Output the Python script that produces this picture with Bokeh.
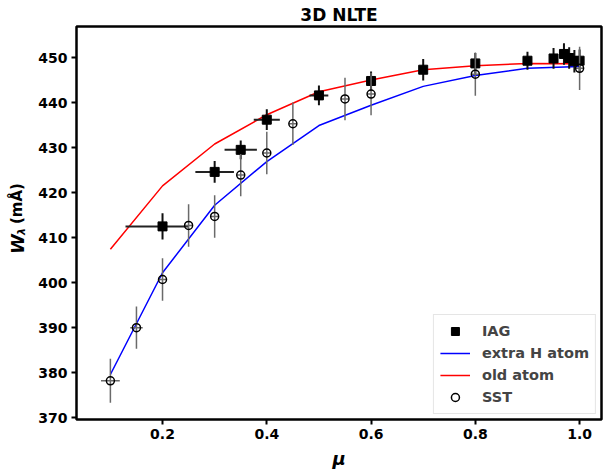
from bokeh.plotting import figure
from bokeh.layouts import row
from bokeh.models import ColumnDataSource, Legend, LegendItem, Label, FixedTicker, PrintfTickFormatter, Range1d
from bokeh.embed import file_html
from bokeh.resources import INLINE
import numpy as np

# ---- data ----
mu_model = [0.1, 0.2, 0.3, 0.4, 0.5, 0.6, 0.7, 0.8, 0.9, 1.0]
w_extra_h = [379.6, 402.2, 417.2, 426.9, 434.9, 439.4, 443.6, 446.0, 447.6, 448.0]
w_old_atom = [407.4, 421.5, 430.8, 437.3, 442.4, 445.0, 447.3, 448.2, 448.7, 448.6]

mu_iag = [0.2, 0.3, 0.35, 0.4, 0.5, 0.6, 0.7, 0.8, 0.9, 0.95, 0.97, 0.98, 0.99, 1.0]
w_iag = [412.5, 424.6, 429.5, 436.2, 441.6, 444.8, 447.3, 448.7, 449.3, 449.8, 450.8, 449.9, 449.2, 449.3]
w_iag_err = [2.9, 2.4, 2.1, 2.3, 2.2, 2.1, 2.4, 2.3, 2.0, 2.3, 2.4, 2.4, 2.5, 2.5]
mu_iag_err_lo = [0.071, 0.037, 0.031, 0.025, 0.018, 0.008, 0.006, 0.005, 0.004, 0.004, 0.004, 0.004, 0.004, 0.004]
mu_iag_err_hi = [0.05, 0.037, 0.031, 0.025, 0.018, 0.008, 0.006, 0.005, 0.004, 0.004, 0.004, 0.004, 0.004, 0.004]

mu_sst = [0.1, 0.15, 0.2, 0.25, 0.3, 0.35, 0.4, 0.45, 0.55, 0.6, 0.8, 1.0]
w_sst = [378.2, 390.0, 400.7, 412.7, 414.7, 423.9, 428.8, 435.3, 440.8, 441.9, 446.3, 447.6]
w_sst_err = [4.9, 4.7, 4.7, 4.7, 4.7, 4.7, 4.7, 4.7, 4.7, 4.7, 4.8, 4.8]
mu_sst_err = [0.018, 0.012, 0.007, 0.007, 0.007, 0.007, 0.007, 0.007, 0.007, 0.007, 0.007, 0.007]

x_ticks = [0.2, 0.4, 0.6, 0.8, 1.0]
y_ticks = [370, 380, 390, 400, 410, 420, 430, 440, 450]

FONT = "DejaVu Sans"
LAB_W = 30
H = 473
FRAME_TOP = 25
FRAME_BOTTOM = 419

p = figure(width=603 - LAB_W, height=H, x_range=(0.035, 1.042), y_range=(369.6, 456.9),
           output_backend="svg", toolbar_location=None,
           min_border_left=76 - LAB_W, min_border_right=2, min_border_top=FRAME_TOP,
           min_border_bottom=H - FRAME_BOTTOM)

p.title.text = "3D NLTE"
p.title.align = "center"
p.title.text_font = FONT
p.title.text_font_size = "17px"
p.title.text_font_style = "bold"
p.title.text_color = "black"
p.title.offset = 0
p.title.standoff = 4

p.grid.visible = False
p.outline_line_color = "black"
p.outline_line_width = 2.5
p.outline_line_alpha = 1.0

for ax in (p.xaxis, p.yaxis):
    ax.axis_line_color = None
    ax.major_tick_out = 5
    ax.major_tick_in = 0
    ax.major_tick_line_width = 2
    ax.minor_tick_line_color = None
    ax.major_label_text_font = FONT
    ax.major_label_text_font_size = "14px"
    ax.major_label_text_font_style = "bold"
    ax.major_label_text_color = "black"
    ax.major_label_standoff = 4

p.xaxis.ticker = FixedTicker(ticks=x_ticks)
p.xaxis.formatter = PrintfTickFormatter(format="%.1f")
p.yaxis.ticker = FixedTicker(ticks=y_ticks)
p.xaxis.axis_label = "μ"
p.xaxis.axis_label_text_font = FONT
p.xaxis.axis_label_text_font_size = "18px"
p.xaxis.axis_label_text_font_style = "bold italic"
p.xaxis.axis_label_text_color = "black"
p.xaxis.axis_label_standoff = 6

# model lines
l_h = p.line(mu_model, w_extra_h, line_color="blue", line_width=1.5)
l_old = p.line(mu_model, w_old_atom, line_color="red", line_width=1.5)

# IAG error bars and squares
iag = ColumnDataSource(dict(
    x=mu_iag, y=w_iag,
    ylo=np.array(w_iag) - np.array(w_iag_err), yhi=np.array(w_iag) + np.array(w_iag_err),
    xlo=np.array(mu_iag) - np.array(mu_iag_err_lo), xhi=np.array(mu_iag) + np.array(mu_iag_err_hi),
))
p.segment(x0="x", y0="ylo", x1="x", y1="yhi", source=iag, line_color="#111111", line_width=2)
p.segment(x0="xlo", y0="y", x1="xhi", y1="y", source=iag, line_color="#222222", line_width=2)
r_iag = p.scatter("x", "y", source=iag, marker="square", size=9, fill_color="black", line_color="black")

# SST error bars and circles
sst = ColumnDataSource(dict(
    x=mu_sst, y=w_sst,
    ylo=np.array(w_sst) - np.array(w_sst_err), yhi=np.array(w_sst) + np.array(w_sst_err),
    xlo=np.array(mu_sst) - np.array(mu_sst_err), xhi=np.array(mu_sst) + np.array(mu_sst_err),
))
p.segment(x0="x", y0="ylo", x1="x", y1="yhi", source=sst, line_color="#6a6a6a", line_width=1.5)
p.segment(x0="xlo", y0="y", x1="xhi", y1="y", source=sst, line_color="#6a6a6a", line_width=1.5)
r_sst = p.scatter("x", "y", source=sst, marker="circle", size=8, fill_color=None,
                  line_color="black", line_width=1.5)

legend = Legend(items=[
    LegendItem(label="IAG", renderers=[r_iag]),
    LegendItem(label="extra H atom", renderers=[l_h]),
    LegendItem(label="old atom", renderers=[l_old]),
    LegendItem(label="SST", renderers=[r_sst]),
], location="bottom_right")
legend.margin = 5
legend.padding = 6
legend.spacing = 2
legend.glyph_width = 30
legend.glyph_height = 20
legend.label_height = 20
legend.label_standoff = 12
legend.label_text_font = FONT
legend.label_text_font_size = "14.5px"
legend.label_text_font_style = "bold"
legend.border_line_color = "#cccccc"
legend.border_line_width = 1
legend.background_fill_alpha = 0.9
p.add_layout(legend)

# narrow side figure carrying the composed y-axis label: W (bold italic) + subscript λ + (mÅ)
# its frame is aligned with the main frame by the row layout, so y = H - page_y
side = figure(width=LAB_W, height=H, x_range=Range1d(0, LAB_W),
              y_range=Range1d(H - FRAME_BOTTOM, H - FRAME_TOP),
              output_backend="svg", toolbar_location=None,
              x_axis_type=None, y_axis_type=None,
              min_border_left=0, min_border_right=0, min_border_top=0, min_border_bottom=0)
side.outline_line_color = None
side.grid.visible = False
lab_w = Label(x=16.5, y=H - 253, text="W", angle=np.pi / 2,
              text_font=FONT, text_font_size="18px", text_font_style="bold italic",
              text_align="left", text_baseline="middle", text_color="black")
lab_l = Label(x=20.5, y=H - 234, text="λ", angle=np.pi / 2,
              text_font=FONT, text_font_size="11px", text_font_style="bold italic",
              text_align="left", text_baseline="middle", text_color="black")
lab_u = Label(x=16.5, y=H - 223, text="(mÅ)", angle=np.pi / 2,
              text_font=FONT, text_font_size="15px", text_font_style="bold",
              text_align="left", text_baseline="middle", text_color="black")
for lab in (lab_w, lab_l, lab_u):
    side.add_layout(lab)

layout = row(side, p, spacing=0)
open("out.html", "w").write(file_html(layout, INLINE))
